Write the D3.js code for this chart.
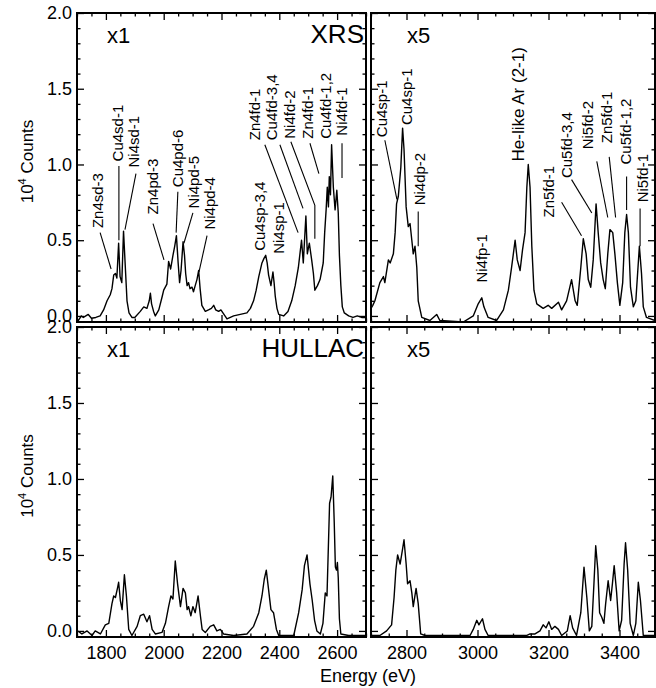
<!DOCTYPE html>
<html>
<head>
<meta charset='utf-8'>
<title>XRS vs HULLAC spectra</title>
<script src='https://d3js.org/d3.v7.min.js'></script>
<style>
body{margin:0;background:#fff;}
text{font-family:'Liberation Sans',Arial,sans-serif;fill:#000;}
.tick line{stroke:#000;stroke-width:1.3px;}
</style>
</head>
<body>
<svg id='chart' width='656' height='688'></svg>
<script>
// XRS, 1700-2700 eV (x1)
var xrsLoE=[1700,1705,1715,1722,1739,1750,1765,1780,1792,1804,1815,1821,1827,1833,1838,1844,1849,1855,1861,1867,1873,1880,1890,1900,1919,1931,1942,1950,1954,1958,1965,1971,1983,1995,2000,2011,2017,2024,2032,2038,2044,2050,2055,2060,2067,2072,2076,2081,2086,2091,2098,2103,2109,2115,2121,2126,2132,2144,2155,2165,2173,2180,2190,2198,2205,2219,2242,2265,2288,2300,2311,2320,2329,2340,2347,2353,2358,2363,2371,2378,2382,2386,2392,2398,2415,2430,2443,2455,2466,2472,2477,2483,2492,2497,2504,2512,2518,2523,2532,2541,2547,2552,2557,2562,2566,2570,2573,2577,2581,2587,2593,2599,2604,2608,2613,2618,2625,2640,2655,2670,2685,2700];
var xrsLoV=[-0.02,-0.03,0.0,-0.01,0.01,-0.015,-0.01,0.0,0.04,0.1,0.14,0.18,0.27,0.28,0.25,0.48,0.26,0.22,0.56,0.33,0.1,0.02,-0.01,-0.01,0.03,0.06,0.05,0.1,0.15,0.08,0.03,0.0,0.04,0.13,0.17,0.21,0.36,0.31,0.4,0.46,0.53,0.35,0.22,0.3,0.49,0.4,0.28,0.2,0.22,0.18,0.19,0.16,0.2,0.24,0.3,0.18,0.07,0.03,0.04,0.05,0.07,0.04,0.03,0.04,0.02,-0.02,0.0,0.01,0.02,0.05,0.1,0.17,0.26,0.35,0.38,0.4,0.35,0.27,0.2,0.29,0.22,0.13,0.05,0.01,0.0,0.03,0.1,0.2,0.32,0.42,0.5,0.35,0.66,0.41,0.48,0.37,0.28,0.17,0.2,0.24,0.3,0.35,0.55,0.7,0.85,0.72,0.92,0.8,1.13,0.85,0.7,0.83,0.68,0.4,0.2,0.06,0.02,0.0,-0.01,0.0,-0.01,-0.01];
// XRS, 2700-3500 eV (x5)
var xrsHiE=[2700,2705,2711,2725,2735,2739,2749,2754,2763,2768,2772,2777,2784,2789,2793,2799,2805,2810,2815,2819,2824,2829,2833,2843,2866,2885,2894,2960,2988,3002,3012,3018,3030,3054,3073,3087,3096,3106,3112,3120,3127,3134,3139,3143,3148,3153,3159,3167,3185,3199,3209,3228,3237,3251,3265,3275,3281,3291,3298,3306,3312,3319,3326,3334,3340,3347,3354,3360,3367,3373,3381,3387,3394,3401,3409,3415,3420,3425,3431,3439,3446,3456,3462,3467,3476,3500];
var xrsHiV=[0.05,0.07,0.1,0.22,0.26,0.22,0.37,0.35,0.41,0.55,0.74,0.79,0.98,1.24,1.1,0.72,0.59,0.61,0.5,0.41,0.46,0.32,0.1,-0.01,-0.03,0.01,-0.03,-0.04,0.0,0.08,0.12,0.06,-0.01,-0.03,0.04,0.17,0.32,0.5,0.37,0.3,0.44,0.55,0.85,1.0,0.85,0.46,0.17,0.08,0.05,0.07,0.05,0.09,0.04,0.1,0.24,0.1,0.07,0.32,0.51,0.41,0.24,0.19,0.37,0.74,0.55,0.35,0.24,0.18,0.41,0.57,0.55,0.41,0.22,0.07,0.22,0.55,0.67,0.55,0.19,0.06,0.1,0.46,0.28,0.06,-0.01,-0.03];
// HULLAC, 1700-2700 eV (x1)
var hulLoE=[1700,1706,1717,1735,1752,1763,1781,1798,1810,1821,1827,1833,1841,1844,1850,1856,1864,1871,1879,1890,1908,1919,1931,1942,1951,1960,1971,1994,2006,2017,2025,2032,2040,2048,2058,2067,2075,2081,2086,2094,2101,2109,2119,2127,2133,2144,2161,2173,2184,2196,2207,2242,2288,2311,2329,2340,2348,2355,2363,2371,2380,2390,2398,2450,2467,2479,2487,2496,2506,2514,2522,2530,2542,2551,2559,2565,2574,2579,2585,2590,2594,2598,2601,2604,2608,2613,2640,2700];
var hulLoV=[0.0,-0.005,-0.02,0.0,-0.03,0.0,-0.02,0.04,0.05,0.18,0.23,0.22,0.29,0.32,0.2,0.14,0.37,0.23,0.01,-0.03,0.03,0.1,0.11,0.06,0.1,0.01,-0.02,-0.01,0.05,0.16,0.23,0.21,0.46,0.31,0.16,0.28,0.25,0.14,0.16,0.1,0.16,0.12,0.23,0.1,0.01,-0.01,0.03,0.04,0.0,0.01,-0.02,-0.03,-0.02,0.03,0.12,0.23,0.34,0.4,0.27,0.14,0.12,0.01,-0.03,-0.03,0.12,0.27,0.43,0.5,0.31,0.2,0.07,0.0,-0.02,0.05,0.25,0.23,0.84,0.88,1.02,0.72,0.42,0.4,0.45,0.35,0.08,-0.02,-0.03,-0.03];
// HULLAC, 2700-3500 eV (x5)
var hulHiE=[2700,2725,2744,2758,2765,2770,2775,2782,2789,2793,2799,2803,2810,2815,2819,2827,2833,2840,2852,2979,2988,2998,3004,3014,3021,3030,3139,3148,3162,3176,3185,3193,3201,3209,3218,3228,3237,3253,3261,3268,3279,3291,3300,3308,3315,3322,3328,3333,3339,3344,3350,3356,3361,3368,3375,3380,3385,3392,3399,3406,3413,3417,3423,3430,3439,3446,3453,3459,3467,3500];
var hulHiV=[-0.03,-0.03,0.0,0.04,0.22,0.4,0.5,0.44,0.54,0.6,0.44,0.31,0.33,0.25,0.16,0.28,0.18,-0.02,-0.03,-0.03,0.01,0.07,0.04,0.08,0.01,-0.03,-0.03,-0.02,-0.02,0.0,0.04,0.02,0.06,0.01,0.03,0.01,-0.03,0.0,0.1,0.02,-0.03,0.12,0.42,0.22,0.0,0.03,0.31,0.56,0.4,0.12,0.09,0.05,0.18,0.33,0.2,0.31,0.43,0.25,0.0,0.07,0.44,0.58,0.4,0.05,-0.03,0.05,0.32,0.2,-0.03,-0.03];

// line identifications: [text, energy, value] of the text foot
var loLabels=[['Zn4sd-3',1772,0.58],['Cu4sd-1',1842,1.02],['Ni4sd-1',1897,0.98],
  ['Zn4pd-3',1963,0.67],['Cu4pd-6',2049,0.85],['Ni4pd-5',2104,0.71],['Ni4pd-4',2160,0.57],
  ['Cu4sp-3,4',2333,0.43],['Ni4sp-1',2399,0.41],
  ['Zn4fd-1',2316,1.16],['Cu4fd-3,4',2375,1.16],['Ni4fd-2',2437,1.17],
  ['Zn4fd-1',2499,1.17],['Cu4fd-1,2',2561,1.17],['Ni4fd-1',2617,1.19]];
var loLeaders=[[[1780,0.55],[1818,0.31]],[[1845,0.99],[1845,0.5]],[[1904,0.94],[1866,0.57]],
  [[1963,0.61],[2001,0.37]],[[2049,0.82],[2043,0.55]],[[2101,0.68],[2070,0.48]],
  [[2150,0.53],[2122,0.29]],[[2350,1.13],[2465,0.55]],[[2402,1.13],[2482,0.71]],
  [[2440,1.15],[2523,0.73],[2523,0.51]],[[2506,1.14],[2537,0.94]],[[2617,1.14],[2617,0.91]]];
var hiLabels=[['Cu4sp-1',2731,1.18],['Cu4sp-1',2801,1.26],['Ni4dp-2',2838,0.73],
  ['Ni4fp-1',3013,0.22],['He-like Ar (2-1)',3114,1.02],['Zn5fd-1',3201,0.65],
  ['Cu5fd-3,4',3252,0.91],['Ni5fd-2',3311,1.1],['Zn5fd-1',3365,1.14],
  ['Cu5fd-1,2',3418,1.0],['Ni5fd-1',3466,0.75]];
var hiLeaders=[[[2739,1.16],[2773,0.77]],[[2833,0.69],[2833,0.46]],[[3237,0.75],[3293,0.53]],
  [[3265,0.9],[3322,0.68]],[[3336,1.02],[3367,0.65]],[[3371,1.05],[3389,0.65]],
  [[3420,0.92],[3420,0.7]],[[3458,0.71],[3458,0.46]]];

var yMajor=[0,0.5,1,1.5,2], loMajor=[1800,2000,2200,2400,2600], hiMajor=[2800,3000,3200,3400];

var svg=d3.select('#chart');
var xLo=d3.scaleLinear().domain([1700,2700]).range([77,366]),
    xHi=d3.scaleLinear().domain([2700,3500]).range([371,655]),
    yTop=d3.scaleLinear().domain([-0.04,2]).range([322,13]),
    yBot=d3.scaleLinear().domain([-0.04,2]).range([637,327]);

var panels=[
  {x:xLo,y:yTop,e:xrsLoE,v:xrsLoV,left:true,bottom:false,tag:'x1',name:'XRS',lab:loLabels,lead:loLeaders,maj:loMajor},
  {x:xHi,y:yTop,e:xrsHiE,v:xrsHiV,left:false,bottom:false,tag:'x5',name:'',lab:hiLabels,lead:hiLeaders,maj:hiMajor},
  {x:xLo,y:yBot,e:hulLoE,v:hulLoV,left:true,bottom:true,tag:'x1',name:'HULLAC',lab:[],lead:[],maj:loMajor},
  {x:xHi,y:yBot,e:hulHiE,v:hulHiV,left:false,bottom:true,tag:'x5',name:'',lab:[],lead:[],maj:hiMajor}];

function minors(dom,step,maj){
  return d3.range(Math.ceil(dom[0]/step)*step,dom[1]+1e-9,step)
    .filter(function(t){return maj.every(function(m){return Math.abs(m-t)>1e-6;});});}

panels.forEach(function(p,i){
  var x=p.x,y=p.y,x0=x.range()[0],x1=x.range()[1],y0=y.range()[1],y1=y.range()[0];
  var g=svg.append('g');
  var xMin=minors(x.domain(),50,p.maj), yMin=minors([0.1,2],0.1,yMajor);
  function ax(a,vals,size,fmt,tr,pad){
    var s=g.append('g').attr('transform',tr)
      .call(a.tickValues(vals).tickSizeInner(-size).tickSizeOuter(0).tickFormat(fmt).tickPadding(pad||3));
    s.select('.domain').remove(); return s;}
  var xf=p.bottom?d3.format('d'):'';
  var yf=p.left?d3.format('.1f'):'';
  ax(d3.axisBottom(x),p.maj,7,xf,'translate(0,'+y1+')',9).selectAll('text').attr('font-size',18);
  ax(d3.axisBottom(x),xMin,3.5,'','translate(0,'+y1+')');
  ax(d3.axisTop(x),p.maj,7,'','translate(0,'+y0+')');
  ax(d3.axisTop(x),xMin,3.5,'','translate(0,'+y0+')');
  ax(d3.axisLeft(y),yMajor,7,yf,'translate('+x0+',0)',5).selectAll('text').attr('font-size',18);
  ax(d3.axisLeft(y),yMin,3.5,'','translate('+x0+',0)');
  ax(d3.axisRight(y),yMajor,7,'','translate('+x1+',0)');
  ax(d3.axisRight(y),yMin,3.5,'','translate('+x1+',0)');

  svg.append('clipPath').attr('id','clip'+i).append('rect')
    .attr('x',x0).attr('y',y0).attr('width',x1-x0).attr('height',y1-y0);
  var pts=p.e.map(function(e,k){return [e,p.v[k]];});
  g.append('path').datum(pts).attr('clip-path','url(#clip'+i+')')
    .attr('fill','none').attr('stroke','#000').attr('stroke-width',1.4).attr('stroke-linejoin','round')
    .attr('d',d3.line().x(function(d){return x(d[0]);}).y(function(d){return y(d[1]);}));
  g.append('rect').attr('x',x0).attr('y',y0).attr('width',x1-x0).attr('height',y1-y0)
    .attr('fill','none').attr('stroke','#000').attr('stroke-width',2);

  g.append('text').attr('x',x0+(p.left?30:36)).attr('y',y0+30).attr('font-size',22).text(p.tag);
  if(p.name) g.append('text').attr('x',x1-2).attr('y',y0+30).attr('text-anchor','end')
    .attr('font-size',26).text(p.name);

  p.lead.forEach(function(l){
    g.append('polyline').attr('fill','none').attr('stroke','#000').attr('stroke-width',1.1)
      .attr('points',l.map(function(d){return x(d[0])+','+y(d[1]);}).join(' '));});
  p.lab.forEach(function(l){
    var big=l[0].indexOf('He')===0;
    g.append('text').attr('transform','translate('+x(l[1])+','+y(l[2])+') rotate(-90)')
      .attr('dy','0.35em').attr('font-size',big?17:15).text(l[0]);});
});

// axis titles
[yTop,yBot].forEach(function(y){
  var c=(y.range()[0]+y.range()[1])/2-6;
  var t=svg.append('text').attr('transform','translate(27,'+c+') rotate(-90)')
    .attr('text-anchor','middle').attr('dy','0.35em').attr('font-size',17);
  t.append('tspan').text('10');
  t.append('tspan').attr('font-size',11).attr('dy',-7).text('4');
  t.append('tspan').attr('dy',7).text(' Counts');});
svg.append('text').attr('x',368).attr('y',682).attr('text-anchor','middle')
  .attr('font-size',18).text('Energy (eV)');
</script>
</body>
</html>
